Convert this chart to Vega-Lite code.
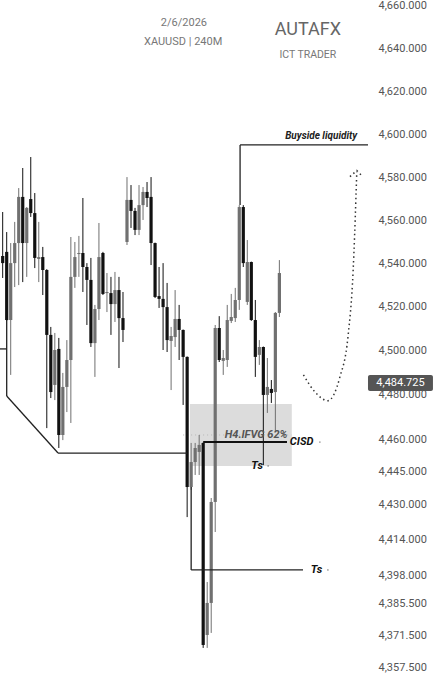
{
  "$schema": "https://vega.github.io/schema/vega-lite/v6.json",
  "width": 370,
  "height": 680,
  "padding": {"left": 0, "top": 0, "right": 69, "bottom": 0},
  "autosize": {"type": "none"},
  "background": "#ffffff",
  "config": {"view": {"stroke": null}, "font": "Roboto"},
  "datasets": {
    "candles": [
      {"i":0,"o":4543.6,"h":4564.0,"l":4533.4,"c":4540.3},
      {"i":1,"o":4545.5,"h":4554.7,"l":4513.5,"c":4513.9},
      {"i":2,"o":4513.9,"h":4549.6,"l":4488.8,"c":4540.3},
      {"i":3,"o":4540.3,"h":4559.4,"l":4529.2,"c":4549.6},
      {"i":4,"o":4549.6,"h":4575.1,"l":4530.1,"c":4571.0},
      {"i":5,"o":4571.0,"h":4584.4,"l":4531.5,"c":4549.6},
      {"i":6,"o":4549.6,"h":4566.3,"l":4533.9,"c":4565.9},
      {"i":7,"o":4570.0,"h":4589.5,"l":4561.7,"c":4563.5},
      {"i":8,"o":4563.5,"h":4572.8,"l":4538.0,"c":4542.7},
      {"i":9,"o":4542.2,"h":4559.4,"l":4531.5,"c":4543.1},
      {"i":10,"o":4543.1,"h":4547.8,"l":4525.5,"c":4537.1},
      {"i":11,"o":4537.1,"h":4537.5,"l":4464.9,"c":4507.0},
      {"i":12,"o":4507.0,"h":4510.7,"l":4478.4,"c":4481.1},
      {"i":13,"o":4484.3,"h":4507.9,"l":4477.5,"c":4500.0},
      {"i":14,"o":4500.5,"h":4505.6,"l":4455.9,"c":4461.8},
      {"i":15,"o":4461.8,"h":4489.7,"l":4459.5,"c":4483.4},
      {"i":16,"o":4483.4,"h":4504.6,"l":4472.1,"c":4495.5},
      {"i":17,"o":4495.5,"h":4552.4,"l":4467.2,"c":4533.9},
      {"i":18,"o":4533.9,"h":4550.1,"l":4528.8,"c":4543.1},
      {"i":19,"o":4544.5,"h":4552.9,"l":4533.9,"c":4545.0},
      {"i":20,"o":4545.0,"h":4570.5,"l":4526.9,"c":4538.5},
      {"i":21,"o":4538.5,"h":4540.3,"l":4511.6,"c":4532.5},
      {"i":22,"o":4532.5,"h":4542.7,"l":4501.4,"c":4503.2},
      {"i":23,"o":4503.2,"h":4520.9,"l":4487.9,"c":4519.0},
      {"i":24,"o":4519.0,"h":4558.9,"l":4513.9,"c":4543.1},
      {"i":25,"o":4545.0,"h":4545.5,"l":4525.5,"c":4526.0},
      {"i":26,"o":4526.4,"h":4535.7,"l":4517.6,"c":4526.9},
      {"i":27,"o":4526.4,"h":4533.9,"l":4507.0,"c":4521.3},
      {"i":28,"o":4521.3,"h":4536.2,"l":4513.0,"c":4527.8},
      {"i":29,"o":4527.8,"h":4533.9,"l":4491.9,"c":4514.8},
      {"i":30,"o":4514.8,"h":4526.9,"l":4503.7,"c":4509.3},
      {"i":31,"o":4550.1,"h":4580.2,"l":4548.7,"c":4569.6},
      {"i":32,"o":4569.6,"h":4576.5,"l":4556.6,"c":4564.5},
      {"i":33,"o":4564.5,"h":4565.9,"l":4553.3,"c":4555.7},
      {"i":34,"o":4555.7,"h":4576.5,"l":4553.3,"c":4567.2},
      {"i":35,"o":4567.2,"h":4575.6,"l":4560.3,"c":4573.3},
      {"i":36,"o":4573.3,"h":4577.9,"l":4566.3,"c":4570.5},
      {"i":37,"o":4571.0,"h":4580.2,"l":4539.4,"c":4549.6},
      {"i":38,"o":4549.6,"h":4549.8,"l":4524.1,"c":4524.6},
      {"i":39,"o":4525.0,"h":4538.5,"l":4519.5,"c":4523.7},
      {"i":40,"o":4523.7,"h":4540.3,"l":4500.0,"c":4519.9},
      {"i":41,"o":4519.9,"h":4531.1,"l":4499.1,"c":4504.6},
      {"i":42,"o":4504.2,"h":4510.7,"l":4482.0,"c":4506.5},
      {"i":43,"o":4506.0,"h":4527.8,"l":4501.4,"c":4514.4},
      {"i":44,"o":4514.4,"h":4520.9,"l":4495.5,"c":4509.3},
      {"i":45,"o":4509.3,"h":4509.5,"l":4475.3,"c":4496.9},
      {"i":46,"o":4496.9,"h":4497.1,"l":4424.4,"c":4438.1},
      {"i":47,"o":4438.1,"h":4458.2,"l":4436.8,"c":4449.5},
      {"i":48,"o":4449.5,"h":4458.2,"l":4443.6,"c":4455.9},
      {"i":49,"o":4454.1,"h":4461.8,"l":4443.6,"c":4457.3},
      {"i":50,"o":4458.2,"h":4458.4,"l":4365.9,"c":4367.2},
      {"i":51,"o":4371.6,"h":4394.9,"l":4365.9,"c":4385.7},
      {"i":52,"o":4385.7,"h":4433.1,"l":4372.5,"c":4431.3},
      {"i":53,"o":4431.3,"h":4511.6,"l":4417.6,"c":4510.2},
      {"i":54,"o":4510.2,"h":4515.7,"l":4494.6,"c":4495.5},
      {"i":55,"o":4495.1,"h":4500.0,"l":4488.8,"c":4496.4},
      {"i":56,"o":4495.5,"h":4520.9,"l":4492.4,"c":4513.9},
      {"i":57,"o":4513.5,"h":4526.0,"l":4512.5,"c":4515.3},
      {"i":58,"o":4514.8,"h":4528.8,"l":4513.0,"c":4523.2},
      {"i":59,"o":4523.2,"h":4567.2,"l":4518.6,"c":4566.3},
      {"i":60,"o":4566.3,"h":4567.2,"l":4538.5,"c":4540.3},
      {"i":61,"o":4522.3,"h":4551.0,"l":4520.9,"c":4540.8},
      {"i":62,"o":4540.8,"h":4541.0,"l":4513.5,"c":4513.9},
      {"i":63,"o":4513.9,"h":4523.2,"l":4487.9,"c":4496.9},
      {"i":64,"o":4497.8,"h":4504.6,"l":4493.3,"c":4501.4},
      {"i":65,"o":4501.4,"h":4501.6,"l":4448.1,"c":4479.8},
      {"i":66,"o":4479.8,"h":4496.4,"l":4471.7,"c":4483.4},
      {"i":67,"o":4482.5,"h":4486.5,"l":4476.2,"c":4480.7},
      {"i":68,"o":4481.1,"h":4517.6,"l":4463.1,"c":4517.2},
      {"i":69,"o":4517.2,"h":4541.7,"l":4515.3,"c":4535.7}
    ],
    "lines": [
      {"x":-0.67,"x2":1,"y":4500.5,"y2":4500.5},
      {"x":1,"x2":1,"y":4513.9,"y2":4479.3},
      {"x":1,"x2":13.8,"y":4479.3,"y2":4453.6},
      {"x":13.8,"x2":46,"y":4453.6,"y2":4453.6},
      {"x":47,"x2":47,"y":4438.1,"y2":4400.3},
      {"x":47,"x2":74.9,"y":4400.3,"y2":4400.3},
      {"x":59.2,"x2":59.2,"y":4595.1,"y2":4567.2},
      {"x":59.2,"x2":91.1,"y":4595.1,"y2":4595.1}
    ],
    "curve": [
      {"x":75.0,"y":4488.8},
      {"x":77.9,"y":4481.1},
      {"x":81.1,"y":4477.2},
      {"x":84.1,"y":4487.9},
      {"x":86.1,"y":4506.0},
      {"x":87.4,"y":4537.1},
      {"x":88.1,"y":4571.0},
      {"x":88.3,"y":4582.6}
    ],
    "arrow": [
      {"x":86.6,"y":4580.4},
      {"x":88.3,"y":4583.2},
      {"x":89.8,"y":4580.4}
    ]
  },
  "encoding": {
    "x": {"field": "x", "type": "quantitative", "scale": {"domain": [-0.67, 91.6], "nice": false, "zero": false}, "axis": null},
    "y": {"field": "y", "type": "quantitative",
      "scale": {"domain": [4357.5, 4398, 4460, 4500, 4660], "range": [667, 575, 439, 350, 5], "nice": false, "zero": false},
      "axis": {"orient": "right", "values": [4660,4640,4620,4600,4580,4560,4540,4520,4500,4480,4460,4445,4430,4414,4398,4385.5,4371.5,4357.5],
        "format": ",.3f", "labelColor": "#555555", "labelFontSize": 11, "labelFont": "Roboto", "labelPadding": 8,
        "domain": false, "ticks": false, "grid": false, "title": null, "labelBaseline": "middle", "labelFlush": false, "labelOverlap": false}}
  },
  "layer": [
    {
      "data": {"values": [{"x":46.7,"x2":72.1,"y":4475.7,"y2":4447.7}]},
      "mark": {"type": "rect", "fill": "#dcdcdc"},
      "encoding": {"x2": {"field": "x2"}, "y2": {"field": "y2"}}
    },
    {
      "data": {"values": [{"x":45,"x2":72,"y":4461.8}]},
      "mark": {"type": "rule", "stroke": "#b5b5b5", "strokeWidth": 1, "strokeDash": [1, 3]},
      "encoding": {"x2": {"field": "x2"}}
    },
    {
      "data": {"name": "candles"},
      "mark": {"type": "rule", "strokeWidth": 1},
      "encoding": {
        "x": {"field": "i", "type": "quantitative"},
        "y": {"field": "l", "type": "quantitative"},
        "y2": {"field": "h"},
        "color": {"condition": {"test": "datum.c < datum.o", "value": "#111111"}, "value": "#707070"}
      }
    },
    {
      "data": {"name": "candles"},
      "mark": {"type": "rule", "strokeWidth": 3.2},
      "encoding": {
        "x": {"field": "i", "type": "quantitative"},
        "y": {"field": "o", "type": "quantitative"},
        "y2": {"field": "c"},
        "color": {"condition": {"test": "datum.c < datum.o", "value": "#111111"}, "value": "#707070"}
      }
    },
    {
      "data": {"name": "lines"},
      "mark": {"type": "rule", "stroke": "#222222", "strokeWidth": 1.3},
      "encoding": {"x2": {"field": "x2"}, "y2": {"field": "y2"}}
    },
    {
      "data": {"values": [{"x":50,"x2":70.9,"y":4458.6}]},
      "mark": {"type": "rule", "stroke": "#111111", "strokeWidth": 2},
      "encoding": {"x2": {"field": "x2"}}
    },
    {
      "data": {"name": "curve"},
      "mark": {"type": "line", "stroke": "#333333", "strokeWidth": 1.5, "strokeDash": [1.5, 3], "interpolate": "monotone"},
      "encoding": {}
    },
    {
      "data": {"name": "arrow"},
      "mark": {"type": "line", "stroke": "#333333", "strokeWidth": 1.5, "strokeDash": [1.5, 3]},
      "encoding": {}
    },
    {
      "data": {"values": [{"x":63.2,"y":4461.6,"t":"H4.IFVG 62%"}]},
      "mark": {"type": "text", "font": "Roboto", "fontSize": 11, "fontStyle": "italic", "fontWeight": "bold", "fill": "#555555", "align": "center", "baseline": "middle"},
      "encoding": {"text": {"field": "t"}}
    },
    {
      "data": {"values": [{"x":71.6,"y":4458.6,"t":"CISD"}]},
      "mark": {"type": "text", "font": "Roboto", "fontSize": 11, "fontStyle": "italic", "fontWeight": "bold", "fill": "#111111", "align": "left", "baseline": "middle"},
      "encoding": {"text": {"field": "t"}}
    },
    {
      "data": {"values": [{"x":64.9,"y":4447.7,"t":"Ts"},{"x":79.7,"y":4400.3,"t":"Ts"}]},
      "mark": {"type": "text", "font": "Roboto", "fontSize": 11, "fontStyle": "italic", "fontWeight": "bold", "fill": "#111111", "align": "right", "baseline": "middle"},
      "encoding": {"text": {"field": "t"}}
    },
    {
      "data": {"values": [{"x":88.4,"y":4599.2,"t":"Buyside liquidity"}]},
      "mark": {"type": "text", "font": "Roboto", "fontSize": 10, "fontStyle": "italic", "fontWeight": "bold", "fill": "#222222", "align": "right", "baseline": "middle"},
      "encoding": {"text": {"field": "t"}}
    },
    {
      "data": {"values": [{"x":79.1,"y":4458.6},{"x":66.2,"y":4447.7},{"x":81.1,"y":4400.3}]},
      "mark": {"type": "point", "filled": true, "fill": "#777777", "size": 3, "strokeWidth": 0},
      "encoding": {}
    },
    {
      "data": {"values": [{"x":45.2,"y":4651.7,"t":"2/6/2026"},{"x":45.0,"y":4642.7,"t":"XAUUSD | 240M"}]},
      "mark": {"type": "text", "font": "Roboto", "fontSize": 11, "fill": "#777777", "align": "center", "baseline": "middle"},
      "encoding": {"text": {"field": "t"}}
    },
    {
      "data": {"values": [{"x":76.1,"y":4648.4,"t":"AUTAFX"}]},
      "mark": {"type": "text", "font": "Roboto", "fontSize": 18, "fill": "#666666", "align": "center", "baseline": "middle"},
      "encoding": {"text": {"field": "t"}}
    },
    {
      "data": {"values": [{"x":76.1,"y":4636.9,"t":"ICT TRADER"}]},
      "mark": {"type": "text", "font": "Roboto", "fontSize": 10.5, "fill": "#777777", "align": "center", "baseline": "middle"},
      "encoding": {"text": {"field": "t"}}
    },
    {
      "data": {"values": [{"x":91.1,"x2":107.3,"y":4488.8,"y2":4481.6}]},
      "mark": {"type": "rect", "fill": "#555555", "cornerRadius": 2},
      "encoding": {"x2": {"field": "x2"}, "y2": {"field": "y2"}}
    },
    {
      "data": {"values": [{"x":99.2,"y":4485.2,"t":"4,484.725"}]},
      "mark": {"type": "text", "font": "Roboto", "fontSize": 11, "fill": "#ffffff", "align": "center", "baseline": "middle"},
      "encoding": {"text": {"field": "t"}}
    }
  ]
}
